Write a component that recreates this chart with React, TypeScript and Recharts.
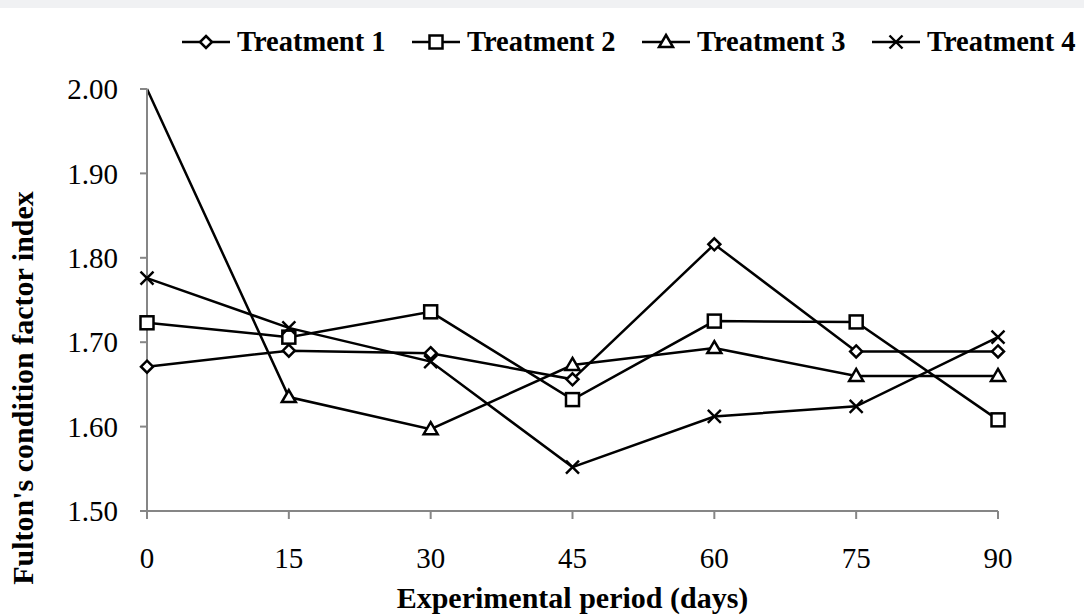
import { LineChart, Line, XAxis, YAxis } from 'recharts';

const days = [0, 15, 30, 45, 60, 75, 90];
const treatment1 = [1.671, 1.69, 1.687, 1.656, 1.816, 1.689, 1.689];
const treatment2 = [1.723, 1.706, 1.736, 1.632, 1.725, 1.724, 1.608];
const treatment3 = [2.0, 1.635, 1.597, 1.673, 1.693, 1.66, 1.66];
const treatment4 = [1.776, 1.717, 1.677, 1.552, 1.612, 1.624, 1.706];
const yTicks = [1.5, 1.6, 1.7, 1.8, 1.9, 2.0];
const seriesNames = ['Treatment 1', 'Treatment 2', 'Treatment 3', 'Treatment 4'];
const seriesShapes = ['diamond', 'square', 'triangle', 'cross'];

const data = days.map((d, i) => ({
  day: d,
  t1: treatment1[i],
  t2: treatment2[i],
  t3: treatment3[i],
  t4: treatment4[i],
}));

const FONT = '"Liberation Serif", "Times New Roman", serif';
const AXIS = '#868686';

function Marker({ shape, cx, cy }: { shape: string; cx: number; cy: number }) {
  const common = { fill: '#fff', stroke: '#000', strokeWidth: 2.5 };
  if (shape === 'diamond') {
    return (
      <polygon
        points={`${cx},${cy - 6} ${cx + 6},${cy} ${cx},${cy + 6} ${cx - 6},${cy}`}
        {...common}
      />
    );
  }
  if (shape === 'square') {
    return <rect x={cx - 6.5} y={cy - 6.5} width={13} height={13} {...common} />;
  }
  if (shape === 'triangle') {
    return (
      <polygon
        points={`${cx},${cy - 7} ${cx + 7},${cy + 5} ${cx - 7},${cy + 5}`}
        {...common}
      />
    );
  }
  return (
    <g stroke="#000" strokeWidth={2.4}>
      <line x1={cx - 6.5} y1={cy - 6.5} x2={cx + 6.5} y2={cy + 6.5} />
      <line x1={cx - 6.5} y1={cy + 6.5} x2={cx + 6.5} y2={cy - 6.5} />
    </g>
  );
}

const makeDot = (shape: string) => (props: any) => {
  const { cx, cy, value, index } = props;
  // the first Treatment 3 marker sits on the plot edge and is clipped in the original
  if (cx == null || cy == null || value >= 2.0) return <g key={`d-${shape}-${index}`} />;
  return (
    <g key={`d-${shape}-${index}`}>
      <Marker shape={shape} cx={cx} cy={cy} />
    </g>
  );
};

function LegendRow() {
  return (
    <div
      style={{
        position: 'absolute',
        top: 26,
        left: 182,
        display: 'flex',
        fontFamily: FONT,
        fontWeight: 'bold',
        fontSize: 28.5,
        lineHeight: '32px',
        whiteSpace: 'nowrap',
      }}
    >
      {seriesNames.map((name, i) => (
        <div key={name} style={{ display: 'flex', alignItems: 'center', width: 230 }}>
          <svg width={48} height={20} style={{ marginRight: 7 }}>
            <line x1={0} y1={10} x2={48} y2={10} stroke="#000" strokeWidth={2.5} />
            <Marker shape={seriesShapes[i]} cx={24} cy={10} />
          </svg>
          <span>{name}</span>
        </div>
      ))}
    </div>
  );
}

export default function App() {
  return (
    <div style={{ position: 'relative', width: 1084, height: 615, background: '#fff' }}>
      <style>{`body{margin:0}`}</style>
      <div
        style={{ position: 'absolute', top: 0, left: 0, width: 1084, height: 8, background: '#f0f1f3' }}
      />
      <LegendRow />
      <LineChart
        width={1084}
        height={615}
        data={data}
        margin={{ top: 89, right: 86, bottom: 0, left: 0 }}
      >
        <XAxis
          dataKey="day"
          type="number"
          domain={[0, 90]}
          ticks={days}
          height={104}
          stroke={AXIS}
          strokeWidth={2}
          tickSize={8}
          tickMargin={28}
          tick={{ fill: '#000', fontSize: 29, fontFamily: FONT }}
          label={{
            content: (p: any) => {
              const vb = p.viewBox;
              return (
                <text
                  x={vb.x + vb.width / 2}
                  y={608}
                  textAnchor="middle"
                  fontFamily={FONT}
                  fontWeight="bold"
                  fontSize={30}
                  fill="#000"
                >
                  Experimental period (days)
                </text>
              );
            },
          }}
        />
        <YAxis
          type="number"
          domain={[1.5, 2.0]}
          ticks={yTicks}
          width={147}
          stroke={AXIS}
          strokeWidth={2}
          tickSize={7}
          tickMargin={22}
          tickFormatter={(v: number) => v.toFixed(2)}
          tick={{ fill: '#000', fontSize: 29, fontFamily: FONT }}
          label={{
            content: () => (
              <text
                transform="translate(33, 388) rotate(-90)"
                textAnchor="middle"
                fontFamily={FONT}
                fontWeight="bold"
                fontSize={30}
                fill="#000"
              >
                Fulton's condition factor index
              </text>
            ),
          }}
        />
        <Line dataKey="t1" stroke="#000" strokeWidth={2.5} dot={makeDot('diamond')} isAnimationActive={false} />
        <Line dataKey="t2" stroke="#000" strokeWidth={2.5} dot={makeDot('square')} isAnimationActive={false} />
        <Line dataKey="t3" stroke="#000" strokeWidth={2.5} dot={makeDot('triangle')} isAnimationActive={false} />
        <Line dataKey="t4" stroke="#000" strokeWidth={2.5} dot={makeDot('cross')} isAnimationActive={false} />
      </LineChart>
    </div>
  );
}
